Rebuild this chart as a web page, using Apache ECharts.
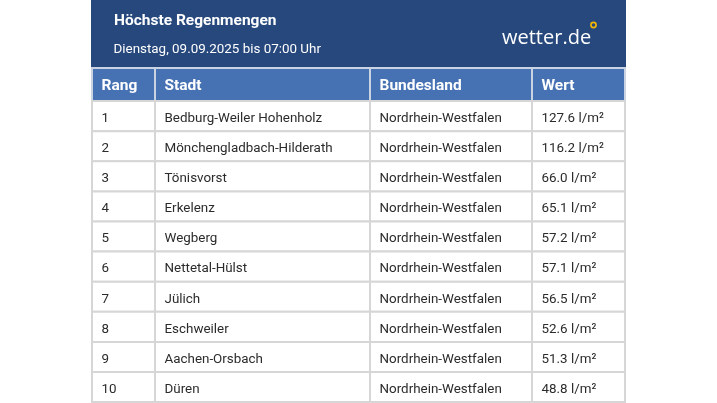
<!DOCTYPE html>
<html>
<head>
<meta charset="utf-8">
<style>html,body{margin:0;padding:0;background:#fff}#main{width:717px;height:403px}</style>
<script src="https://cdn.jsdelivr.net/npm/echarts@6/dist/echarts.min.js"></script>
</head>
<body>
<div id="main"></div>
<script>
var title = 'Höchste Regenmengen';
var subtitle = 'Dienstag, 09.09.2025 bis 07:00 Uhr';
var logo = 'wetter.de';
var headers = ['Rang', 'Stadt', 'Bundesland', 'Wert'];
var ranks = ['1', '2', '3', '4', '5', '6', '7', '8', '9', '10'];
var cities = ['Bedburg-Weiler Hohenholz', 'Mönchengladbach-Hilderath', 'Tönisvorst', 'Erkelenz', 'Wegberg',
    'Nettetal-Hülst', 'Jülich', 'Eschweiler', 'Aachen-Orsbach', 'Düren'];
var states = ['Nordrhein-Westfalen', 'Nordrhein-Westfalen', 'Nordrhein-Westfalen', 'Nordrhein-Westfalen', 'Nordrhein-Westfalen',
    'Nordrhein-Westfalen', 'Nordrhein-Westfalen', 'Nordrhein-Westfalen', 'Nordrhein-Westfalen', 'Nordrhein-Westfalen'];
var values = [127.6, 116.2, 66.0, 65.1, 57.2, 57.1, 56.5, 52.6, 51.3, 48.8];
var unit = ' l/m²';

// spaltengrenzen in achsen-einheiten
var colEdges = [92, 155, 370, 532, 625];

var cells = [];
headers.forEach(function (h, c) {
    cells.push([c, -1, h]);
});
ranks.forEach(function (r, i) {
    cells.push([0, i, r]);
    cells.push([1, i, cities[i]]);
    cells.push([2, i, states[i]]);
    cells.push([3, i, values[i].toFixed(1) + unit]);
});

function renderCell(params, api) {
    var c = api.value(0), row = api.value(1);
    var isHead = row < 0;
    var top = isHead ? -1.1 : row;
    var bottom = isHead ? 0 : row + 1;
    var p0 = api.coord([colEdges[c], top]);
    var p1 = api.coord([colEdges[c + 1], bottom]);
    return {
        type: 'group',
        children: [{
            type: 'rect',
            shape: {x: p0[0], y: p0[1], width: p1[0] - p0[0], height: p1[1] - p0[1]},
            style: {fill: isHead ? '#4672b4' : '#fff', stroke: isHead ? '#c9d3e2' : '#d6d6d6', lineWidth: 2}
        }, {
            type: 'text',
            x: p0[0] + 9.5,
            y: (p0[1] + p1[1]) / 2 + (isHead ? 1.5 : 2.5),
            style: {
                text: api.value(2),
                fill: isHead ? '#fff' : '#2b2b2b',
                font: (isHead ? 'bold 15.5px' : '13.4px') + ' Roboto',
                verticalAlign: 'middle',
                align: 'left'
            }
        }]
    };
}

var chart = echarts.init(document.getElementById('main'));
chart.setOption({
    animation: false,
    backgroundColor: '#fff',
    grid: {left: 92, top: 68, width: 533, height: 334.1},
    xAxis: {type: 'value', min: 92, max: 625, show: false},
    yAxis: {type: 'value', min: -1.1, max: 10, inverse: true, show: false},
    graphic: [
        {type: 'rect', z: 0, shape: {x: 91, y: 0, width: 535, height: 67}, style: {fill: '#26487c'}},
        {type: 'text', z: 1, x: 114, y: 21, style: {text: title, fill: '#fff', font: 'bold 15.5px Roboto', verticalAlign: 'middle'}},
        {type: 'text', z: 1, x: 113.5, y: 49.5, style: {text: subtitle, fill: '#fff', font: '13.4px Roboto', verticalAlign: 'middle'}},
        {type: 'text', z: 1, x: 502, y: 38.5, style: {text: logo, fill: '#fff', font: '500 20px "Open Sans"', verticalAlign: 'middle'}},
        {type: 'circle', z: 1, shape: {cx: 593.5, cy: 25, r: 2.6}, style: {fill: 'none', stroke: '#f2b705', lineWidth: 1.6}}
    ],
    series: [{
        type: 'custom',
        coordinateSystem: 'cartesian2d',
        renderItem: renderCell,
        encode: {x: 0, y: 1},
        clip: false,
        silent: true,
        data: cells
    }]
});
</script>
</body>
</html>
